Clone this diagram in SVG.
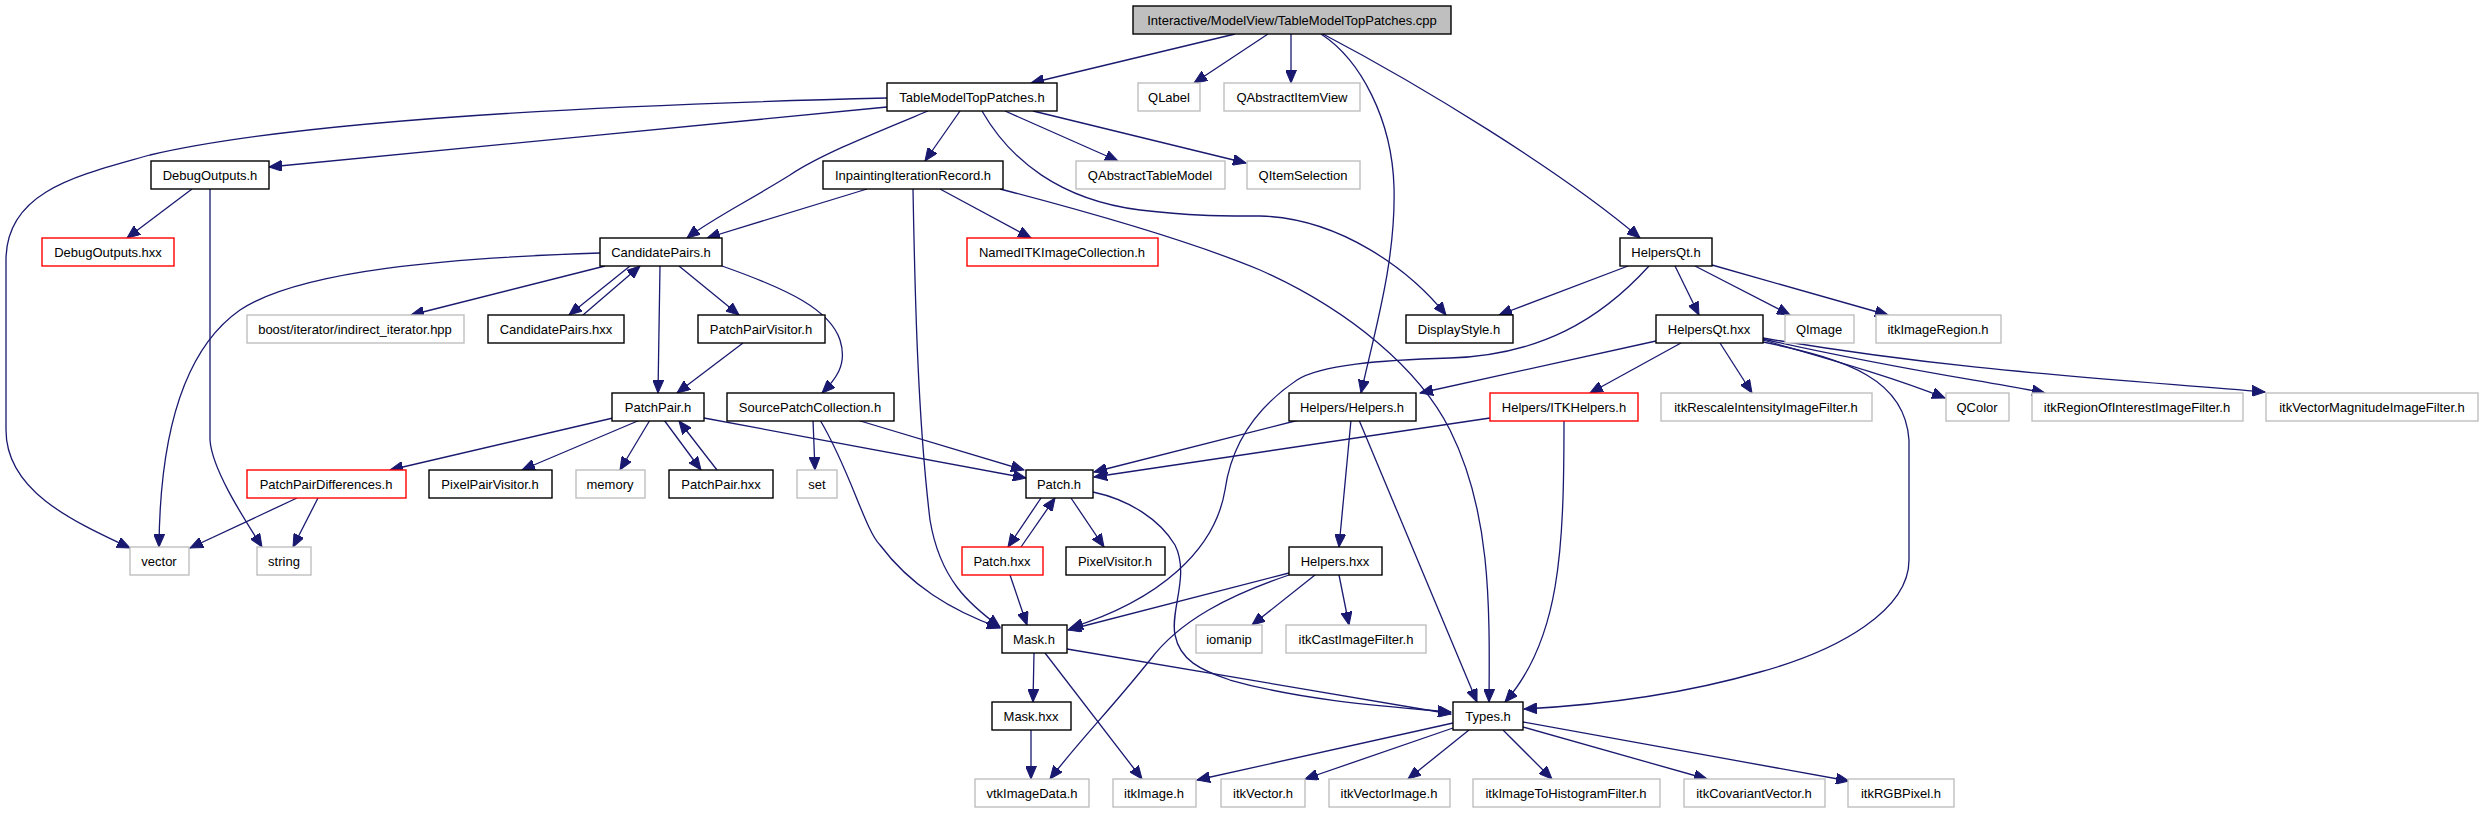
<svg xmlns="http://www.w3.org/2000/svg" width="2483" height="813" viewBox="0 0 2483 813">
<style>
rect{fill:#fff;stroke-width:1.4}
.n rect{stroke:#000}
.g rect{stroke:#bfbfbf}
.r rect{stroke:#ff0000}
.root rect{fill:#bfbfbf;stroke:#000}
text{font-family:"Liberation Sans",Arial,sans-serif;font-size:13px;fill:#000;text-anchor:middle}
#edges path{fill:none;stroke:#191970;stroke-width:1.3;marker-end:url(#ah)}
</style>
<defs>
<marker id="ah" markerUnits="userSpaceOnUse" markerWidth="14" markerHeight="11" refX="13" refY="5.5" orient="auto">
<path d="M0,0 L13,5.5 L0,11 z" fill="#191970" stroke="#191970" stroke-width="1"/>
</marker>
</defs>
<rect x="0" y="0" width="2483" height="813" style="fill:#fff;stroke:none"/>
<g id="edges">
<path d="M1235,34 L1031,83"/>
<path d="M1268,34 L1194,83"/>
<path d="M1291,34 L1291,83"/>
<path d="M1321,34 C1361,60 1392,120 1394,187 C1396,260 1375,330 1361,393"/>
<path d="M1323,34 C1420,85 1560,170 1640,238"/>
<path d="M887,98 C600,105 300,120 150,155 C80,175 6,190 6,260 L6,430 C6,490 70,520 130,548"/>
<path d="M887,107 C700,125 450,150 269,167"/>
<path d="M928,111 C870,135 820,155 790,175 C750,200 710,220 687,238"/>
<path d="M960,111 L925,161"/>
<path d="M1005,111 L1118,161"/>
<path d="M1033,111 L1246,163"/>
<path d="M982,111 C1010,160 1060,200 1140,210 C1190,216 1220,216 1260,216 C1340,218 1410,270 1446,315"/>
<path d="M192,189 L127,238"/>
<path d="M210,189 L210,440 C212,470 245,520 262,547"/>
<path d="M867,189 L707,238"/>
<path d="M940,189 L1031,238"/>
<path d="M913,189 C915,300 918,420 930,520 C940,580 970,605 1000,627"/>
<path d="M1000,189 C1100,215 1200,245 1260,270 C1350,310 1420,370 1450,430 C1490,510 1490,600 1489,702"/>
<path d="M600,253 C450,258 300,270 240,310 C190,345 160,420 159,547"/>
<path d="M605,266 L411,315"/>
<path d="M630,266 L569,315"/>
<path d="M583,315 L640,266"/>
<path d="M660,266 L658,393"/>
<path d="M679,266 L739,315"/>
<path d="M722,266 C790,290 830,310 840,340 C848,365 835,380 822,393"/>
<path d="M1628,266 L1499,315"/>
<path d="M1649,266 C1600,320 1540,355 1450,358 C1380,360 1320,365 1297,380 C1260,405 1232,440 1225,490 C1215,550 1160,600 1070,628"/>
<path d="M1675,266 L1699,315"/>
<path d="M1695,266 L1790,315"/>
<path d="M1712,265 L1888,315"/>
<path d="M1656,341 L1420,393"/>
<path d="M1681,343 L1590,393"/>
<path d="M1720,343 L1752,393"/>
<path d="M1763,340 C1850,365 1900,380 1945,398"/>
<path d="M1763,339 C1900,370 1980,380 2045,393"/>
<path d="M1763,338 C1950,370 2100,378 2265,392"/>
<path d="M1763,342 C1850,360 1905,380 1909,440 L1909,560 C1909,610 1840,650 1760,672 C1680,695 1600,705 1524,709"/>
<path d="M1299,420 L1094,472"/>
<path d="M1490,418 L1094,477"/>
<path d="M1351,420 L1339,547"/>
<path d="M1359,420 L1477,702"/>
<path d="M1564,420 C1564,550 1560,640 1505,702"/>
<path d="M613,418 L390,470"/>
<path d="M640,420 L522,470"/>
<path d="M650,420 L620,470"/>
<path d="M664,420 L701,470"/>
<path d="M717,470 L679,421"/>
<path d="M704,418 L1026,478"/>
<path d="M743,343 L677,393"/>
<path d="M813,420 L815,470"/>
<path d="M820,420 C850,470 865,530 880,545 C910,585 950,610 1000,628"/>
<path d="M857,420 L1024,470"/>
<path d="M1041,498 L1008,547"/>
<path d="M1021,547 L1055,498"/>
<path d="M1071,498 L1104,547"/>
<path d="M1093,492 C1130,500 1160,520 1175,545 C1190,575 1170,610 1175,635 C1180,660 1200,670 1230,680 C1300,700 1380,706 1451,712"/>
<path d="M1010,575 L1027,625"/>
<path d="M1289,573 L1068,630"/>
<path d="M1289,575 C1230,595 1180,620 1150,660 C1110,710 1080,740 1050,779"/>
<path d="M1315,575 L1252,625"/>
<path d="M1339,575 L1349,625"/>
<path d="M1034,653 L1033,702"/>
<path d="M1045,653 L1142,779"/>
<path d="M1067,649 L1451,714"/>
<path d="M1031,730 L1031,779"/>
<path d="M1453,723 L1197,780"/>
<path d="M1453,728 L1305,779"/>
<path d="M1469,730 L1408,779"/>
<path d="M1503,730 L1552,779"/>
<path d="M1523,727 L1707,779"/>
<path d="M1523,722 L1849,781"/>
<path d="M297,498 L190,548"/>
<path d="M318,498 L293,547"/>
</g>
<g id="root" class="root"><rect x="1133" y="6" width="318" height="28"/><text x="1292" y="25">Interactive/ModelView/TableModelTopPatches.cpp</text></g>
<g id="tmtp" class="n"><rect x="887" y="83" width="170" height="28"/><text x="972" y="102">TableModelTopPatches.h</text></g>
<g id="qlabel" class="g"><rect x="1138" y="83" width="62" height="28"/><text x="1169" y="102">QLabel</text></g>
<g id="qaiv" class="g"><rect x="1224" y="83" width="136" height="28"/><text x="1292" y="102">QAbstractItemView</text></g>
<g id="dbg" class="n"><rect x="151" y="161" width="118" height="28"/><text x="210" y="180">DebugOutputs.h</text></g>
<g id="iir" class="n"><rect x="823" y="161" width="180" height="28"/><text x="913" y="180">InpaintingIterationRecord.h</text></g>
<g id="qatm" class="g"><rect x="1076" y="161" width="149" height="28"/><text x="1150" y="180">QAbstractTableModel</text></g>
<g id="qis" class="g"><rect x="1247" y="161" width="113" height="28"/><text x="1303" y="180">QItemSelection</text></g>
<g id="dbgx" class="r"><rect x="42" y="238" width="132" height="28"/><text x="108" y="257">DebugOutputs.hxx</text></g>
<g id="cp" class="n"><rect x="600" y="238" width="122" height="28"/><text x="661" y="257">CandidatePairs.h</text></g>
<g id="nitk" class="r"><rect x="967" y="238" width="191" height="28"/><text x="1062" y="257">NamedITKImageCollection.h</text></g>
<g id="hqt" class="n"><rect x="1620" y="238" width="92" height="28"/><text x="1666" y="257">HelpersQt.h</text></g>
<g id="boost" class="g"><rect x="247" y="315" width="217" height="28"/><text x="355" y="334">boost/iterator/indirect_iterator.hpp</text></g>
<g id="cpx" class="n"><rect x="488" y="315" width="136" height="28"/><text x="556" y="334">CandidatePairs.hxx</text></g>
<g id="ppv" class="n"><rect x="698" y="315" width="127" height="28"/><text x="761" y="334">PatchPairVisitor.h</text></g>
<g id="ds" class="n"><rect x="1406" y="315" width="107" height="28"/><text x="1459" y="334">DisplayStyle.h</text></g>
<g id="hqtx" class="n"><rect x="1656" y="315" width="107" height="28"/><text x="1709" y="334">HelpersQt.hxx</text></g>
<g id="qimage" class="g"><rect x="1785" y="315" width="69" height="28"/><text x="1819" y="334">QImage</text></g>
<g id="itkir" class="g"><rect x="1876" y="315" width="125" height="28"/><text x="1938" y="334">itkImageRegion.h</text></g>
<g id="pp" class="n"><rect x="612" y="393" width="92" height="28"/><text x="658" y="412">PatchPair.h</text></g>
<g id="spc" class="n"><rect x="727" y="393" width="167" height="28"/><text x="810" y="412">SourcePatchCollection.h</text></g>
<g id="hh" class="n"><rect x="1289" y="393" width="127" height="28"/><text x="1352" y="412">Helpers/Helpers.h</text></g>
<g id="itkh" class="r"><rect x="1490" y="393" width="148" height="28"/><text x="1564" y="412">Helpers/ITKHelpers.h</text></g>
<g id="rescale" class="g"><rect x="1661" y="393" width="211" height="28"/><text x="1766" y="412">itkRescaleIntensityImageFilter.h</text></g>
<g id="qcolor" class="g"><rect x="1946" y="393" width="63" height="28"/><text x="1977" y="412">QColor</text></g>
<g id="roi" class="g"><rect x="2032" y="393" width="211" height="28"/><text x="2137" y="412">itkRegionOfInterestImageFilter.h</text></g>
<g id="vmag" class="g"><rect x="2266" y="393" width="212" height="28"/><text x="2372" y="412">itkVectorMagnitudeImageFilter.h</text></g>
<g id="ppd" class="r"><rect x="247" y="470" width="159" height="28"/><text x="326" y="489">PatchPairDifferences.h</text></g>
<g id="pixpv" class="n"><rect x="429" y="470" width="123" height="28"/><text x="490" y="489">PixelPairVisitor.h</text></g>
<g id="memory" class="g"><rect x="576" y="470" width="69" height="28"/><text x="610" y="489">memory</text></g>
<g id="ppx" class="n"><rect x="669" y="470" width="104" height="28"/><text x="721" y="489">PatchPair.hxx</text></g>
<g id="set" class="g"><rect x="797" y="470" width="40" height="28"/><text x="817" y="489">set</text></g>
<g id="patch" class="n"><rect x="1026" y="470" width="67" height="28"/><text x="1059" y="489">Patch.h</text></g>
<g id="vector" class="g"><rect x="130" y="547" width="59" height="28"/><text x="159" y="566">vector</text></g>
<g id="string" class="g"><rect x="257" y="547" width="54" height="28"/><text x="284" y="566">string</text></g>
<g id="patchx" class="r"><rect x="962" y="547" width="81" height="28"/><text x="1002" y="566">Patch.hxx</text></g>
<g id="pixv" class="n"><rect x="1066" y="547" width="99" height="28"/><text x="1115" y="566">PixelVisitor.h</text></g>
<g id="hx" class="n"><rect x="1289" y="547" width="93" height="28"/><text x="1335" y="566">Helpers.hxx</text></g>
<g id="mask" class="n"><rect x="1002" y="625" width="65" height="28"/><text x="1034" y="644">Mask.h</text></g>
<g id="iomanip" class="g"><rect x="1196" y="625" width="66" height="28"/><text x="1229" y="644">iomanip</text></g>
<g id="cast" class="g"><rect x="1286" y="625" width="140" height="28"/><text x="1356" y="644">itkCastImageFilter.h</text></g>
<g id="maskx" class="n"><rect x="992" y="702" width="79" height="28"/><text x="1031" y="721">Mask.hxx</text></g>
<g id="types" class="n"><rect x="1453" y="702" width="70" height="28"/><text x="1488" y="721">Types.h</text></g>
<g id="vtk" class="g"><rect x="975" y="779" width="114" height="28"/><text x="1032" y="798">vtkImageData.h</text></g>
<g id="itkimg" class="g"><rect x="1113" y="779" width="83" height="28"/><text x="1154" y="798">itkImage.h</text></g>
<g id="itkvec" class="g"><rect x="1221" y="779" width="84" height="28"/><text x="1263" y="798">itkVector.h</text></g>
<g id="itkvi" class="g"><rect x="1329" y="779" width="121" height="28"/><text x="1389" y="798">itkVectorImage.h</text></g>
<g id="hist" class="g"><rect x="1473" y="779" width="187" height="28"/><text x="1566" y="798">itkImageToHistogramFilter.h</text></g>
<g id="cov" class="g"><rect x="1684" y="779" width="141" height="28"/><text x="1754" y="798">itkCovariantVector.h</text></g>
<g id="rgb" class="g"><rect x="1848" y="779" width="106" height="28"/><text x="1901" y="798">itkRGBPixel.h</text></g>
</svg>
